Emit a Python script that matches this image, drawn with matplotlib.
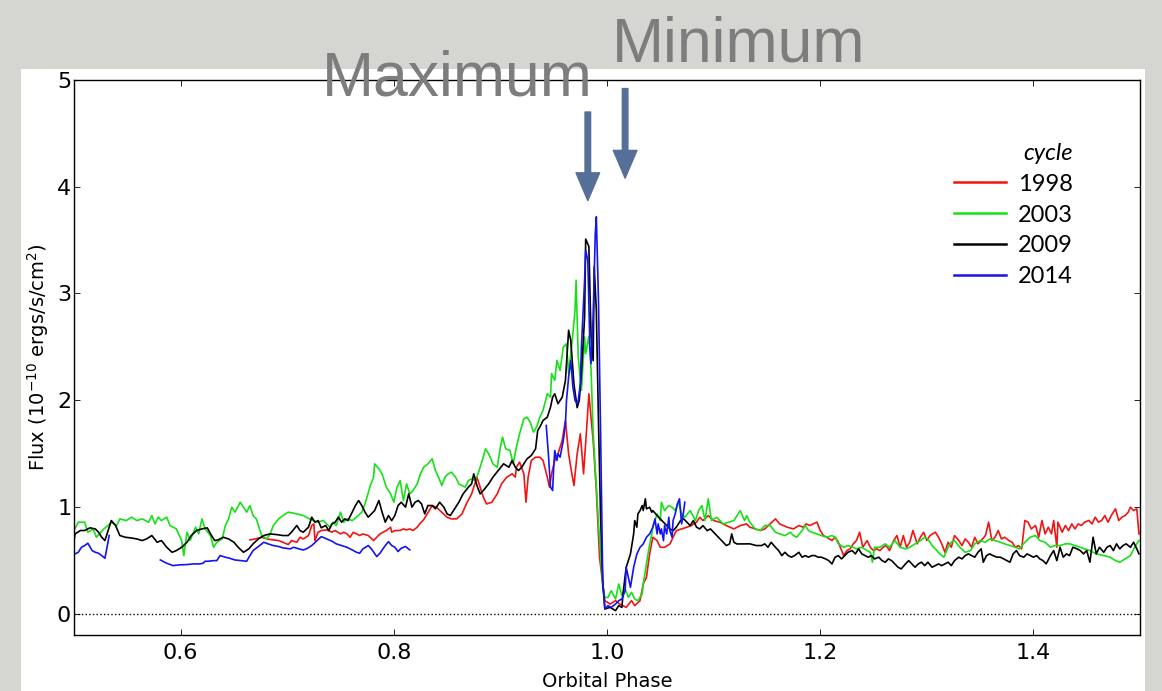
import numpy as np
import matplotlib
matplotlib.use('Agg')
import matplotlib.pyplot as plt
from matplotlib.patches import Rectangle

nan = float('nan')

# 1998 cycle
phase_1998 = [
    0.665, 0.670, 0.676, 0.681, 0.687, 0.692, 0.696, 0.701, 0.704, 0.709,
    0.712, 0.715, 0.720, 0.723, 0.725, 0.726, 0.729, 0.732, 0.737, 0.742,
    0.745, 0.750, 0.753, 0.756, 0.759, 0.762, 0.765, 0.768, 0.771, 0.776,
    0.781, 0.784, 0.787, 0.790, 0.793, 0.797, 0.798, 0.801, 0.806, 0.809,
    0.812, 0.815, 0.818, 0.822, 0.825, 0.828, 0.831, 0.836, 0.840, 0.845,
    0.850, 0.854, 0.859, 0.864, 0.868, 0.873, 0.876, 0.878, 0.881, 0.884,
    0.887, 0.892, 0.897, 0.901, 0.906, 0.911, 0.914, 0.915, 0.918, 0.922,
    0.924, 0.926, 0.929, 0.933, 0.937, 0.940, 0.944, 0.946, 0.948, 0.951,
    0.954, 0.958, 0.961, 0.964, 0.967, 0.969, 0.972, 0.975, 0.978, 0.981,
    0.983, 0.985, 0.987, 0.990, 0.993, 0.998, 1.003, 1.008, 1.012, 1.018,
    1.023, 1.026, 1.031, 1.034, 1.037, 1.040, 1.043, 1.047, 1.050, 1.054,
    1.059, 1.062, 1.065, 1.070, 1.075, 1.079, 1.084, 1.087, 1.090, 1.095,
    1.100, 1.106, 1.112, 1.119, 1.125, 1.131,
    1.134, 1.139, 1.144, 1.148, 1.153, 1.158, 1.162, 1.169, 1.175, 1.180,
    1.184, 1.187, 1.190, 1.197, 1.200, 1.203, 1.206, 1.211, 1.214, 1.217,
    1.222, 1.225, 1.228, 1.231, 1.234, 1.237, 1.240, 1.244, 1.247, 1.250,
    1.253, 1.256, 1.259, 1.262, 1.265, 1.269, 1.272, 1.275, 1.278, 1.281,
    1.284, 1.287, 1.291, 1.294, 1.297, 1.300, 1.303, 1.308, 1.311, 1.314,
    1.317, 1.320, 1.323, 1.326, 1.330, 1.333, 1.336, 1.339, 1.342, 1.345,
    1.348, 1.351, 1.355, 1.358, 1.361, 1.364, 1.367, 1.370, 1.373, 1.377,
    1.380, 1.383, 1.386, 1.389, 1.392, 1.395, 1.398, 1.402, 1.405, 1.408,
    1.411, 1.414, 1.417, 1.419, 1.422, 1.423, 1.427, 1.430, 1.433, 1.436,
    1.439, 1.442, 1.445, 1.448, 1.452, 1.455, 1.458, 1.461, 1.464, 1.467,
    1.470, 1.473, 1.477, 1.480, 1.483, 1.486, 1.489, 1.491, 1.494, 1.497,
    1.499]
flux_1998 = [
    0.691, 0.700, 0.716, 0.700, 0.691, 0.685, 0.669, 0.647, 0.685, 0.669,
    0.716, 0.700, 0.732, 0.826, 0.841, 0.685, 0.763, 0.779, 0.785, 0.763,
    0.779, 0.747, 0.763, 0.747, 0.716, 0.763, 0.747, 0.732, 0.747, 0.732,
    0.685, 0.716, 0.747, 0.763, 0.779, 0.810, 0.763, 0.779, 0.779, 0.794,
    0.785, 0.794, 0.779, 0.810, 0.850, 0.880, 0.930, 1.013, 0.997, 0.950,
    0.903, 0.888, 0.888, 0.935, 1.028, 1.122, 1.216, 1.279, 1.185, 1.091,
    1.028, 1.044, 1.122, 1.216, 1.279, 1.310, 1.279, 1.372, 1.419, 1.310,
    1.044, 1.279, 1.435, 1.466, 1.466, 1.435, 1.279, 1.185, 1.310, 1.435,
    1.497, 1.623, 1.810, 1.497, 1.310, 1.200, 1.497, 1.685, 1.310, 1.748,
    2.060, 1.841, 1.623, 1.154, 0.528, 0.122, 0.090, 0.122, 0.090, 0.059,
    0.122, 0.075, 0.122, 0.278, 0.341, 0.559, 0.716, 0.684, 0.622, 0.622,
    0.653, 0.716, 0.778, 0.794, 0.810, 0.825, 0.857, 0.903, 0.872, 0.919,
    0.872, 0.857, 0.825, 0.794, 0.825, 0.841,
    0.810, 0.794, 0.779, 0.794, 0.841, 0.888, 0.841, 0.810, 0.794, 0.826,
    0.810, 0.841, 0.826, 0.857, 0.779, 0.732, 0.716, 0.685, 0.716, 0.669,
    0.544, 0.591, 0.607, 0.654, 0.685, 0.763, 0.622, 0.685, 0.622, 0.591,
    0.607, 0.591, 0.622, 0.638, 0.591, 0.685, 0.732, 0.622, 0.732, 0.622,
    0.669, 0.779, 0.654, 0.716, 0.763, 0.685, 0.732, 0.763, 0.716, 0.654,
    0.575, 0.669, 0.622, 0.732, 0.685, 0.638, 0.700, 0.669, 0.622, 0.716,
    0.654, 0.685, 0.732, 0.857, 0.685, 0.716, 0.779, 0.700, 0.716, 0.685,
    0.669, 0.622, 0.638, 0.607, 0.873, 0.857, 0.794, 0.826, 0.716, 0.873,
    0.747, 0.810, 0.747, 0.873, 0.622, 0.857, 0.763, 0.826, 0.779, 0.841,
    0.794, 0.841, 0.826, 0.857, 0.873, 0.841, 0.904, 0.857, 0.873, 0.919,
    0.857, 0.919, 0.982, 0.873, 0.904, 0.919, 0.951, 0.998, 0.966, 0.982,
    0.747]

# 2003 cycle
phase_2003 = [
    0.500, 0.504, 0.510, 0.513, 0.518, 0.521, 0.528, 0.532, 0.535, 0.540,
    0.543, 0.549, 0.554, 0.559, 0.564, 0.570, 0.573, 0.576, 0.579, 0.582,
    0.587, 0.590, 0.596, 0.601, 0.603, 0.606, 0.609, 0.614, 0.617, 0.620,
    0.623, 0.628, 0.631, 0.634, 0.639, 0.642, 0.645, 0.648, 0.651, 0.656,
    0.659, 0.662, 0.665, 0.668, 0.671, 0.676, 0.681, 0.684, 0.687, 0.692,
    0.696, 0.701, 0.709, 0.715, 0.721, 0.728, 0.734, 0.740, 0.743, 0.746,
    0.750, 0.753, 0.756, 0.761, 0.765, 0.770, 0.773, 0.778, 0.781, 0.782,
    0.786, 0.789,
    0.793, 0.797, 0.800, 0.803, 0.806, 0.809, 0.812, 0.815, 0.818, 0.822,
    0.825, 0.828, 0.832, 0.836, 0.839, 0.842, 0.845, 0.848, 0.851, 0.854,
    0.858, 0.861, 0.864, 0.867, 0.870, 0.873, 0.876, 0.879, 0.883, 0.886,
    0.889, 0.893, 0.897, 0.900, 0.902, 0.905, 0.909, 0.912, 0.915, 0.918,
    0.922, 0.925, 0.928, 0.931, 0.934, 0.937, 0.940, 0.944, 0.947, 0.948,
    0.951, 0.953, 0.956, 0.959, 0.962, 0.964, 0.965, 0.968, 0.970, 0.971,
    0.973, 0.976, 0.979, 0.980, 0.983, 0.985, 0.987, 0.989, 0.990, 0.992,
    0.994, 0.996, 0.998, 1.001, 1.004, 1.008, 1.011, 1.014, 1.017, 1.020,
    1.023, 1.026, 1.029, 1.033, 1.034, 1.037, 1.039, 1.042, 1.043, 1.047,
    1.050, 1.051, 1.054, 1.058, 1.061, 1.064, 1.067, 1.070, 1.073, 1.078,
    1.083, 1.086, 1.089, 1.092, 1.095, 1.098, 1.103, 1.109, 1.119, 1.125,
    1.129,
    1.131, 1.134, 1.139, 1.144, 1.148, 1.153, 1.158, 1.162, 1.167, 1.172,
    1.175, 1.178, 1.183, 1.186, 1.189, 1.192, 1.197, 1.201, 1.206, 1.211,
    1.214, 1.217, 1.222, 1.226, 1.231, 1.234, 1.239, 1.244, 1.247, 1.249,
    1.251, 1.256, 1.261, 1.265, 1.270, 1.275, 1.280, 1.284, 1.289, 1.294,
    1.298, 1.301, 1.305, 1.308, 1.312, 1.316, 1.320, 1.323, 1.326, 1.331,
    1.336, 1.341, 1.345, 1.350, 1.355, 1.359, 1.364, 1.369, 1.373, 1.378,
    1.383, 1.387, 1.392, 1.397, 1.402, 1.406, 1.411, 1.416, 1.420, 1.425,
    1.430, 1.434, 1.439, 1.444, 1.448, 1.453, 1.459, 1.466, 1.472, 1.477,
    1.481, 1.486, 1.491, 1.495, 1.499]
flux_2003 = [
    0.779, 0.857, 0.857, 0.763, 0.794, 0.716, 0.794, 0.826, 0.857, 0.826,
    0.888, 0.872, 0.904, 0.872, 0.888, 0.857, 0.919, 0.841, 0.904, 0.872,
    0.904, 0.826, 0.794, 0.685, 0.544, 0.763, 0.685, 0.810, 0.747, 0.888,
    0.794, 0.732, 0.622, 0.669, 0.700, 0.826, 0.888, 0.998, 0.951, 1.044,
    0.998, 0.951, 1.013, 0.919, 0.888, 0.732, 0.700, 0.747, 0.826, 0.888,
    0.919, 0.951, 0.935, 0.919, 0.888, 0.857, 0.872, 0.810, 0.857, 0.826,
    0.951, 0.857, 0.888, 0.872, 0.904, 0.951, 1.029, 1.201, 1.279, 1.404,
    1.357, 1.310,
    1.185, 1.122, 1.044, 1.185, 1.247, 1.060, 1.216, 1.122, 1.154, 1.216,
    1.310, 1.372, 1.404, 1.451, 1.341, 1.279, 1.200, 1.279, 1.310, 1.326,
    1.279, 1.216, 1.200, 1.185, 1.247, 1.263, 1.247, 1.310, 1.435, 1.544,
    1.497, 1.404, 1.372, 1.560, 1.654, 1.544, 1.529, 1.404, 1.560, 1.685,
    1.826, 1.841, 1.794, 1.701, 1.748, 1.841, 1.904, 2.060, 2.029, 2.248,
    2.185, 2.373, 2.279, 2.498, 2.529, 2.248, 2.342, 2.623, 2.842, 3.124,
    2.404, 2.092, 2.592, 2.436, 2.600, 2.300, 1.700, 1.350, 1.200, 0.850,
    0.550, 0.250, 0.150, 0.153, 0.215, 0.137, 0.278, 0.169, 0.231, 0.153,
    0.200, 0.137, 0.122, 0.184, 0.278, 0.466, 0.591, 0.747, 0.810, 0.935,
    0.872, 1.044, 0.966, 1.013, 0.997, 0.966, 1.044, 0.935, 0.903, 0.966,
    0.872, 0.966, 1.013, 0.872, 1.076, 0.872, 0.903, 0.841, 0.872, 0.966,
    0.872,
    0.919, 0.857, 0.794, 0.779, 0.826, 0.826, 0.763, 0.747, 0.732, 0.763,
    0.732, 0.716, 0.779, 0.826, 0.779, 0.763, 0.747, 0.732, 0.716, 0.732,
    0.716, 0.654, 0.622, 0.638, 0.622, 0.607, 0.622, 0.591, 0.575, 0.482,
    0.622, 0.622, 0.654, 0.622, 0.685, 0.622, 0.607, 0.622, 0.654, 0.685,
    0.716, 0.700, 0.638, 0.607, 0.560, 0.529, 0.622, 0.669, 0.685, 0.622,
    0.575, 0.591, 0.654, 0.685, 0.669, 0.700, 0.685, 0.669, 0.654, 0.638,
    0.622, 0.607, 0.669, 0.716, 0.732, 0.685, 0.669, 0.622, 0.638, 0.638,
    0.654, 0.654, 0.638, 0.622, 0.607, 0.591, 0.560, 0.544, 0.529, 0.497,
    0.482, 0.513, 0.544, 0.622, 0.685]

# 2009 cycle
phase_2009 = [
    0.500, 0.501, 0.506, 0.510, 0.515, 0.520, 0.523, 0.526, 0.529, 0.532,
    0.535, 0.539, 0.543, 0.548, 0.553, 0.559, 0.564, 0.568, 0.573, 0.578,
    0.582, 0.587, 0.592, 0.596, 0.601, 0.606, 0.610, 0.615, 0.620, 0.625,
    0.629, 0.632, 0.635, 0.640, 0.645, 0.650, 0.654, 0.659, 0.664, 0.668,
    0.673, 0.678, 0.684, 0.690, 0.696, 0.701, 0.704, 0.709, 0.712, 0.715,
    0.720, 0.723, 0.726, 0.729, 0.732, 0.736, 0.739, 0.742, 0.745, 0.748,
    0.751, 0.754, 0.757, 0.761, 0.764, 0.767, 0.770, 0.773, 0.776, 0.779,
    0.782, 0.786, 0.789, 0.792, 0.795, 0.798, 0.801, 0.804, 0.807, 0.811,
    0.814, 0.817, 0.820, 0.823, 0.826, 0.829, 0.832,
    0.836, 0.839, 0.843, 0.847, 0.850, 0.853, 0.856, 0.861, 0.865, 0.870,
    0.873, 0.875, 0.878, 0.881, 0.884, 0.889, 0.893, 0.898, 0.903, 0.908,
    0.911, 0.914, 0.917, 0.920, 0.925, 0.929, 0.933, 0.935, 0.937, 0.940,
    0.944, 0.947, 0.949, 0.951, 0.954, 0.958, 0.961, 0.964, 0.966, 0.969,
    0.972, 0.974, 0.976, 0.979, 0.980, 0.983, 0.985, 0.987, 0.988, 0.990,
    0.992, 0.994, 0.996, 0.998, 1.003, 1.008, 1.011, 1.014, 1.015, 1.018,
    1.022, 1.025, 1.026, 1.028, 1.029, 1.031, 1.033, 1.034, 1.036, 1.037,
    1.040, 1.042, 1.043, 1.047, 1.050, 1.053, 1.056, 1.059, 1.062, 1.065,
    1.069, 1.072, 1.075, 1.078, 1.081, 1.084, 1.087, 1.090, 1.094, 1.097,
    1.100, 1.103, 1.106, 1.109, 1.112, 1.115, 1.117, 1.119, 1.122, 1.128,
    1.134, 1.140, 1.145, 1.148, 1.151, 1.154, 1.158, 1.161, 1.164, 1.167,
    1.170, 1.173, 1.176, 1.180, 1.183, 1.186, 1.189, 1.192, 1.195, 1.198,
    1.201, 1.205, 1.208, 1.211, 1.214, 1.217, 1.220, 1.223, 1.226, 1.230,
    1.233, 1.236, 1.239, 1.242, 1.245, 1.248, 1.251, 1.255, 1.258, 1.261,
    1.264, 1.267, 1.270, 1.273, 1.276, 1.280, 1.283, 1.286, 1.289, 1.292,
    1.295, 1.298, 1.301, 1.305, 1.308, 1.311, 1.314, 1.317, 1.320, 1.323,
    1.326, 1.330, 1.333, 1.336, 1.339, 1.342, 1.345, 1.348, 1.351, 1.353,
    1.356, 1.359, 1.362, 1.366, 1.369, 1.372, 1.375, 1.378, 1.381, 1.384,
    1.387, 1.391, 1.394, 1.397, 1.400, 1.403, 1.406, 1.409, 1.412, 1.416,
    1.419, 1.422, 1.425, 1.428, 1.431, 1.434, 1.437, 1.441, 1.444, 1.447,
    1.450, 1.453, 1.456, 1.459, 1.462, 1.466, 1.469, 1.472, 1.475, 1.478,
    1.481, 1.484, 1.487, 1.491, 1.494, 1.497, 1.499]
flux_2009 = [
    0.685, 0.747, 0.779, 0.779, 0.804, 0.794, 0.763, 0.716, 0.685, 0.779,
    0.872, 0.826, 0.732, 0.716, 0.710, 0.700, 0.685, 0.700, 0.732, 0.669,
    0.685, 0.622, 0.575, 0.591, 0.622, 0.669, 0.732, 0.779, 0.794, 0.804,
    0.732, 0.685, 0.691, 0.716, 0.700, 0.669, 0.622, 0.575, 0.607, 0.654,
    0.700, 0.732, 0.747, 0.741, 0.732, 0.732, 0.763, 0.826, 0.779, 0.763,
    0.810, 0.904, 0.857, 0.872, 0.804, 0.826, 0.779, 0.841, 0.857, 0.904,
    0.857, 0.888, 0.872, 0.951, 1.013, 1.060, 1.013, 0.951, 0.904, 0.935,
    0.966, 1.060, 0.951, 0.857, 0.919, 0.872, 0.919, 1.013, 1.044, 0.998,
    1.123, 0.998, 1.044, 1.060, 1.029, 0.935, 1.013,
    1.013, 0.982, 1.044, 0.997, 0.935, 0.919, 0.966, 1.044, 1.122, 1.185,
    1.216, 1.310, 1.200, 1.122, 1.154, 1.216, 1.279, 1.341, 1.404, 1.372,
    1.435, 1.372, 1.341, 1.372, 1.451, 1.482, 1.544, 1.716, 1.748, 1.810,
    1.841, 1.935, 2.029, 2.060, 1.967, 2.029, 2.185, 2.655, 2.560, 2.150,
    1.930, 2.000, 2.250, 2.780, 3.510, 3.440, 2.620, 2.370, 3.250, 2.840,
    1.800, 0.900, 0.300, 0.044, 0.059, 0.028, 0.075, 0.059, 0.184, 0.434,
    0.559, 0.747, 0.872, 0.810, 0.935, 0.966, 1.013, 0.966, 1.076, 0.982,
    0.997, 0.950, 0.966, 0.919, 0.888, 0.857, 0.825, 0.794, 0.778, 0.810,
    0.872, 0.888, 0.857, 0.825, 0.872, 0.810, 0.794, 0.825, 0.778, 0.794,
    0.763, 0.731, 0.700, 0.669, 0.638, 0.653, 0.747, 0.669, 0.653, 0.653,
    0.654, 0.638, 0.638, 0.654, 0.622, 0.669, 0.622, 0.591, 0.544, 0.575,
    0.544, 0.529, 0.544, 0.575, 0.529, 0.544, 0.529, 0.544, 0.544, 0.529,
    0.529, 0.513, 0.497, 0.466, 0.529, 0.544, 0.513, 0.544, 0.575, 0.591,
    0.560, 0.607, 0.560, 0.544, 0.529, 0.544, 0.513, 0.529, 0.497, 0.482,
    0.513, 0.497, 0.466, 0.435, 0.419, 0.466, 0.497, 0.466, 0.435, 0.466,
    0.482, 0.450, 0.482, 0.435, 0.450, 0.466, 0.450, 0.466, 0.482, 0.450,
    0.497, 0.529, 0.513, 0.544, 0.560, 0.544, 0.529, 0.575, 0.607, 0.482,
    0.544, 0.560, 0.544, 0.529, 0.529, 0.513, 0.497, 0.482, 0.560, 0.591,
    0.544, 0.529, 0.560, 0.544, 0.529, 0.544, 0.513, 0.497, 0.466, 0.544,
    0.591, 0.497, 0.622, 0.529, 0.560, 0.544, 0.622, 0.607, 0.591, 0.560,
    0.591, 0.482, 0.716, 0.560, 0.622, 0.575, 0.622, 0.638, 0.591, 0.654,
    0.607, 0.638, 0.654, 0.622, 0.669, 0.607, 0.560]

# 2014 cycle (three separate stretches of coverage)
phase_2014 = [
    0.500, 0.501, 0.504, 0.507, 0.510, 0.513, 0.517, 0.520, 0.523, 0.526,
    0.529, 0.531, 0.533, nan,
    0.581, 0.587, 0.593, 0.599, 0.606, 0.612, 0.618, 0.621, 0.623, 0.626,
    0.631, 0.634, 0.637, 0.642, 0.646, 0.651, 0.657, 0.662, 0.665, 0.668,
    0.673, 0.678, 0.682, 0.687, 0.692, 0.696, 0.703, 0.706, 0.711, 0.715,
    0.718, 0.723, 0.728, 0.732, 0.737, 0.742, 0.746, 0.751, 0.756, 0.761,
    0.765, 0.768, 0.771, 0.776, 0.779, 0.784, 0.787, 0.792, 0.795, 0.798,
    0.801, 0.804, 0.807, 0.811, 0.815, nan,
    0.943, 0.945, 0.947, 0.949, 0.950, 0.951, 0.953, 0.954, 0.956, 0.959,
    0.961, 0.962, 0.964, 0.966, 0.968, 0.970, 0.972, 0.973, 0.975, 0.976,
    0.979, 0.980, 0.982, 0.984, 0.985, 0.987, 0.989, 0.990, 0.992, 0.994,
    0.996, 0.998, 1.001, 1.004, 1.008, 1.011, 1.014, 1.017, 1.018, 1.020,
    1.022, 1.025, 1.028, 1.031, 1.034, 1.037, 1.040, 1.043, 1.045, 1.047,
    1.048, 1.050, 1.051, 1.053, 1.054, 1.056, 1.058, 1.059, 1.061, 1.062,
    1.064, 1.066, 1.068, 1.070, 1.072, 1.073]
flux_2014 = [
    0.560, 0.560, 0.575, 0.622, 0.638, 0.660, 0.591, 0.575, 0.566, 0.544,
    0.519, 0.622, 0.732, nan,
    0.503, 0.472, 0.450, 0.457, 0.460, 0.466, 0.466, 0.472, 0.491, 0.491,
    0.497, 0.497, 0.544, 0.529, 0.519, 0.503, 0.497, 0.491, 0.544, 0.591,
    0.629, 0.669, 0.654, 0.638, 0.629, 0.616, 0.607, 0.622, 0.607, 0.597,
    0.607, 0.638, 0.685, 0.722, 0.700, 0.679, 0.654, 0.638, 0.622, 0.597,
    0.575, 0.566, 0.607, 0.638, 0.607, 0.535, 0.566, 0.638, 0.675, 0.638,
    0.622, 0.582, 0.613, 0.629, 0.597, nan,
    1.763, 1.497, 1.185, 1.154, 1.372, 1.529, 1.435, 1.497, 1.466, 1.623,
    1.779, 1.998, 2.217, 2.373, 2.123, 1.998, 1.967, 1.998, 2.154, 2.498,
    3.124, 3.405, 3.311, 2.498, 2.342, 2.780, 3.561, 3.718, 2.936, 1.685,
    0.300, 0.044, 0.075, 0.059, 0.090, 0.122, 0.137, 0.216, 0.434, 0.341,
    0.247, 0.434, 0.559, 0.622, 0.653, 0.716, 0.747, 0.810, 0.888, 0.747,
    0.841, 0.747, 0.794, 0.684, 0.825, 0.747, 0.903, 0.778, 0.716, 0.872,
    0.935, 1.028, 1.076, 0.841, 0.966, 1.044]

cycles = ['1998', '2003', '2009', '2014']
phases = [phase_1998, phase_2003, phase_2009, phase_2014]
fluxes = [flux_1998, flux_2003, flux_2009, flux_2014]
colors = ['#f21414', '#18e018', 'black', '#1414f0']

# phases of the periastron markers
max_phase = 0.982
min_phase = 1.017

W, H = 1162, 691
fig = plt.figure(figsize=(W / 100, H / 100), dpi=100)
fig.patch.set_facecolor('#d5d5d1')
fig.patches.append(Rectangle((21 / W, 0), (1145 - 21) / W, 1 - 69 / H,
                             transform=fig.transFigure, facecolor='white',
                             edgecolor='none', zorder=-1))

ax = fig.add_axes([74 / W, 1 - 635 / H, (1140 - 74) / W, (635 - 80) / H])

for ph, fl, col, lab in zip(phases, fluxes, colors, cycles):
    ax.plot(ph, fl, color=col, lw=1.2, label=lab)

ax.axhline(0, color='black', ls=':', lw=1)

ax.set_xlim(0.5, 1.5)
ax.set_ylim(-0.2, 5)
ax.set_xticks([0.6, 0.8, 1.0, 1.2, 1.4])
ax.set_xticklabels(['%.1f' % t for t in [0.6, 0.8, 1.0, 1.2, 1.4]])
ax.set_yticks([0, 1, 2, 3, 4, 5])
ax.tick_params(direction='in', length=4, width=0.6, top=True, right=True,
               labelsize=16)
ax.tick_params(axis='y', pad=2)
ax.tick_params(axis='x', pad=6)
for sp in ax.spines.values():
    sp.set_linewidth(1.0)

ax.set_xlabel('Orbital Phase', fontsize=14, labelpad=6)
ax.set_ylabel(r'Flux (10$^{-10}$ ergs/s/cm$^2$)', fontsize=14, labelpad=4)

leg = ax.legend(loc='upper right', bbox_to_anchor=(0.937, 0.887),
                frameon=False, borderpad=0, borderaxespad=0,
                handlelength=2.2, handletextpad=0.5, labelspacing=0.42,
                prop={'family': 'Lato', 'size': 17},
                title='cycle', alignment='right',
                title_fontproperties={'family': 'Lato', 'size': 17,
                                      'style': 'italic'})
for line in leg.get_lines():
    line.set_linewidth(1.8)

arrow_col = '#566f98'
for ph, y0, y1 in [(max_phase, 4.70, 3.87), (min_phase, 4.92, 4.08)]:
    ax.annotate('', xy=(ph, y1), xytext=(ph, y0), annotation_clip=False,
                arrowprops=dict(arrowstyle='simple,head_width=0.85,'
                                'head_length=1.0,tail_width=0.2',
                                color=arrow_col, shrinkA=0, shrinkB=0,
                                mutation_scale=20))

fig.text(322 / W, 1 - 96 / H, 'Maximum', fontsize=45, color='#7d7d7d',
         family='Liberation Sans', va='baseline', ha='left')
fig.text(612 / W, 1 - 61 / H, 'Minimum', fontsize=45, color='#7d7d7d',
         family='Liberation Sans', va='baseline', ha='left')

fig.savefig('out.png', dpi=100, facecolor=fig.get_facecolor())
